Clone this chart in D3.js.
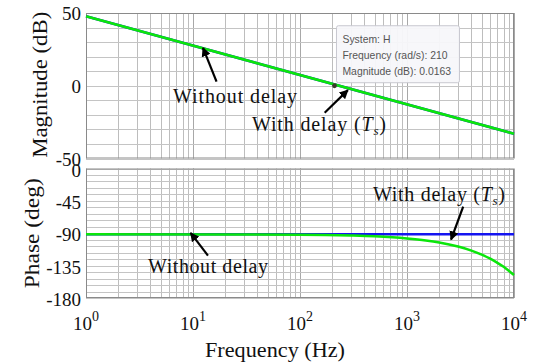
<!DOCTYPE html>
<html><head><meta charset="utf-8">
<script src="https://cdn.jsdelivr.net/npm/d3@7/dist/d3.min.js"></script>
<style>body{margin:0;background:#fff}svg{display:block}</style>
</head><body>
<svg id="c" width="542" height="364"></svg>
<script>
// ---- data ----
const freqTicks = [1, 10, 100, 1000, 10000];
const freqTickExp = ["0", "1", "2", "3", "4"];
const magTicks = [50, 0, -50];
const phaseTicks = [0, -45, -90, -135, -180];

// magnitude (both systems overlap: straight -20 dB/dec line)
const magFreq = [1, 10000];
const magWithout = [47.8, -33];
const magWith = [47.8, -33];

// phase
const phFreqWithout = [1, 10000];
const phWithout = [-91.5, -91.5];
const phFreqWith = [1, 100, 300, 500, 1000, 1500, 2000, 3000, 4000, 5000, 6000, 7000, 8000, 9000, 10000];
const phWith = [-91.5, -92.1, -93.2, -94.3, -97.2, -100, -102.8, -108.5, -114.1, -119.8, -125.4, -131.1, -136.7, -142.4, -148];

// data tip
const tipFreq = 210, tipMag = 0.0163;
const tipLines = ["System: H", "Frequency (rad/s): 210", "Magnitude (dB): 0.0163"];

const svg = d3.select("#c");
const L = 86, R = 514;
const x = d3.scaleLog().domain([1, 10000]).range([L, R]);
const yM = d3.scaleLinear().domain([-50, 50]).range([158.5, 13]);
const yP = d3.scaleLinear().domain([-180, 0]).range([298, 168.5]);
const serif = "'Liberation Serif','Times New Roman',serif";
const green = "#0be60b", blue = "#1515f0";

function panel(y, ystep) {
  const g = svg.append("g");
  const [y0, y1] = y.domain();
  const minors = [];
  for (let d = 1; d < 10000; d *= 10) for (let k = 1; k <= 10; k++) minors.push(d * k);
  g.append("rect").attr("x", L).attr("y", y.range()[1]).attr("width", R - L)
    .attr("height", y.range()[0] - y.range()[1]).attr("fill", "#fff");
  g.selectAll(".v").data(minors).join("line")
    .attr("x1", d => Math.round(x(d)) + 0.5).attr("x2", d => Math.round(x(d)) + 0.5)
    .attr("y1", y.range()[1]).attr("y2", y.range()[0])
    .attr("stroke", d => (Math.log10(d) % 1 === 0) ? "#a8a8a8" : "#bdbdbd").attr("stroke-width", 1);
  const hs = d3.range(y0, y1 + 0.001, ystep);
  g.selectAll(".h").data(hs).join("line")
    .attr("x1", L).attr("x2", R)
    .attr("y1", d => Math.round(y(d)) + 0.5).attr("y2", d => Math.round(y(d)) + 0.5)
    .attr("stroke", "#c4c4c4").attr("stroke-width", 1);
  g.append("rect").attr("x", L + 0.5).attr("y", y.range()[1] + 0.5).attr("width", R - L - 1)
    .attr("height", y.range()[0] - y.range()[1] - 1).attr("fill", "none")
    .attr("stroke", "#8a8a8a").attr("stroke-width", 1);
  return g;
}
panel(yM, 10);
panel(yP, 9);

const line = (y) => d3.line().x(d => x(d[0])).y(d => y(d[1])).curve(d3.curveMonotoneX);

// magnitude lines
svg.append("path").datum(magFreq.map((f, i) => [f, magWithout[i]])).attr("d", line(yM))
  .attr("fill", "none").attr("stroke", blue).attr("stroke-width", 2.5);
svg.append("path").datum(magFreq.map((f, i) => [f, magWith[i]])).attr("d", line(yM))
  .attr("fill", "none").attr("stroke", green).attr("stroke-width", 2.5);

// phase lines
svg.append("path").datum(phFreqWithout.map((f, i) => [f, phWithout[i]])).attr("d", line(yP))
  .attr("fill", "none").attr("stroke", blue).attr("stroke-width", 2.5);
svg.append("path").datum(phFreqWith.map((f, i) => [f, phWith[i]])).attr("d", line(yP))
  .attr("fill", "none").attr("stroke", green).attr("stroke-width", 2.5);

// y tick labels
svg.selectAll(".ym").data(magTicks).join("text")
  .attr("x", 81).attr("y", d => yM(d) + 7).attr("text-anchor", "end")
  .attr("font-family", serif).attr("font-size", 19).attr("fill", "#111").text(d => d);
svg.selectAll(".yp").data(phaseTicks).join("text")
  .attr("x", 81).attr("y", d => yP(d) + 8).attr("text-anchor", "end")
  .attr("font-family", serif).attr("font-size", 19).attr("fill", "#111").text(d => d);

// x tick labels
const xt = svg.selectAll(".xt").data(freqTicks).join("text")
  .attr("x", d => x(d)).attr("y", 330).attr("text-anchor", "middle")
  .attr("font-family", serif).attr("font-size", 19).attr("fill", "#111");
xt.append("tspan").text("10");
xt.append("tspan").attr("dy", -9).attr("font-size", 14).text((d, i) => freqTickExp[i]);

// axis titles
svg.append("text").attr("x", 275).attr("y", 357).attr("text-anchor", "middle")
  .attr("font-family", serif).attr("font-size", 21).attr("fill", "#111")
  .attr("textLength", 140).attr("lengthAdjust", "spacingAndGlyphs").text("Frequency (Hz)");
svg.append("text").attr("transform", `translate(47,${(yM.range()[0] + yM.range()[1]) / 2 - 1}) rotate(-90)`)
  .attr("text-anchor", "middle").attr("font-family", serif).attr("font-size", 21).attr("fill", "#111")
  .attr("textLength", 146).attr("lengthAdjust", "spacingAndGlyphs").text("Magnitude (dB)");
svg.append("text").attr("transform", `translate(39,${(yP.range()[0] + yP.range()[1]) / 2}) rotate(-90)`)
  .attr("text-anchor", "middle").attr("font-family", serif).attr("font-size", 21).attr("fill", "#111")
  .attr("textLength", 110).attr("lengthAdjust", "spacingAndGlyphs").text("Phase (deg)");

// annotations (positions in data units)
const annMag = [
  {text: "Without delay", tx: 235, ty: 103, w: 124, sub: false, tail: [16.6, 2.8], tip: [12.4, 26]},
  {text: "With delay (", tx: 252, ty: 131, w: 134, sub: true, anchor: "start", tail: [170, -18.5], tip: [280, -3]}
];
const annPh = [
  {text: "With delay (", tx: 373, ty: 201, w: 132, sub: true, anchor: "start", tail: [3350, -53], tip: [2580, -99]},
  {text: "Without delay", tx: 208, ty: 273, w: 120, sub: false, tail: [13.8, -121], tip: [9.5, -89.5]}
];
svg.append("defs").append("marker").attr("id", "ah").attr("viewBox", "0 0 10 10")
  .attr("refX", 9).attr("refY", 5).attr("markerWidth", 4.2).attr("markerHeight", 4.2)
  .attr("orient", "auto").attr("markerUnits", "strokeWidth")
  .append("path").attr("d", "M0,0 L10,5 L0,10 Z").attr("fill", "#000");

function drawAnn(list, y) {
  list.forEach(a => {
    svg.append("line").attr("x1", x(a.tail[0])).attr("y1", y(a.tail[1]))
      .attr("x2", x(a.tip[0])).attr("y2", y(a.tip[1]))
      .attr("stroke", "#000").attr("stroke-width", 2.2).attr("marker-end", "url(#ah)");
    const t = svg.append("text").attr("x", a.tx).attr("y", a.ty)
      .attr("text-anchor", a.anchor || "middle").attr("font-family", serif)
      .attr("font-size", 20).attr("fill", "#111")
      .attr("textLength", a.w).attr("lengthAdjust", "spacing");
    t.append("tspan").text(a.text);
    if (a.sub) {
      t.append("tspan").attr("font-style", "italic").text("T");
      t.append("tspan").attr("font-style", "italic").attr("font-size", 13).attr("dy", 4).text("s");
      t.append("tspan").attr("dy", -4).text(")");
    }
  });
}
drawAnn(annMag, yM);
drawAnn(annPh, yP);

// data tip
const mx = x(tipFreq), my = yM(tipMag);
const tg = svg.append("g");
tg.append("rect").attr("x", mx + 2).attr("y", my - 60).attr("width", 123).attr("height", 57)
  .attr("rx", 2).attr("fill", "#f7f7fa").attr("fill-opacity", 0.95).attr("stroke", "#c8c8d0");
tg.selectAll("text").data(tipLines).join("text")
  .attr("x", mx + 8).attr("y", (d, i) => my - 43 + i * 16)
  .attr("font-family", "'Liberation Sans',Arial,sans-serif").attr("font-size", 10.4)
  .attr("fill", "#555").text(d => d);
svg.append("circle").attr("cx", mx).attr("cy", my).attr("r", 2.4).attr("fill", "#3a3a2a");
</script>
</body></html>
